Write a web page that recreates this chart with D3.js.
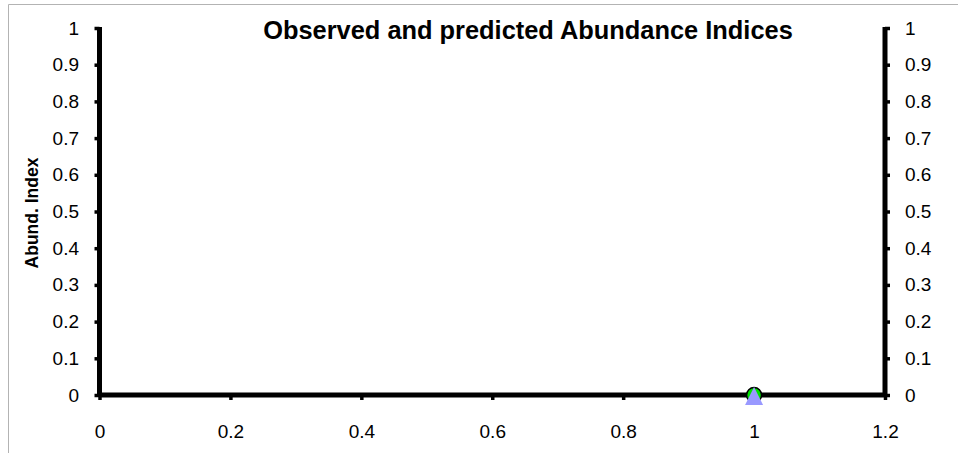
<!DOCTYPE html>
<html><head><meta charset="utf-8">
<script src="https://cdn.jsdelivr.net/npm/d3@7"></script>
<style>body{margin:0;background:#fff}svg{display:block}</style>
</head><body>
<script>
const xTicks = [0, 0.2, 0.4, 0.6, 0.8, 1, 1.2];
const yTicks = [0, 0.1, 0.2, 0.3, 0.4, 0.5, 0.6, 0.7, 0.8, 0.9, 1];
const observedX = [1];
const observedY = [0];
const predictedX = [1];
const predictedY = [0];

const W = 958, H = 453;
const FONT = "'Liberation Sans', Arial, sans-serif";
const svg = d3.select("body").append("svg").attr("width", W).attr("height", H)
  .style("font-family", FONT);

// outer frame
svg.append("path").attr("d", `M8.5,${H} V4.5 H${W}`).attr("fill","none").attr("stroke","#b3b3b3").attr("stroke-width",1);

const x = d3.scaleLinear().domain([0, 1.2]).range([99.5, 885]);
const y = d3.scaleLinear().domain([0, 1]).range([395, 28]);

const gl = svg.append("g").attr("transform", `translate(${x(0)},0)`)
  .call(d3.axisLeft(y).tickValues(yTicks).tickFormat(d3.format("~g")).tickSize(5).tickPadding(15.5));
const gr = svg.append("g").attr("transform", `translate(${x(1.2)},0)`)
  .call(d3.axisRight(y).tickValues(yTicks).tickFormat(d3.format("~g")).tickSize(5).tickPadding(15));
const gb = svg.append("g").attr("transform", `translate(0,${y(0)})`)
  .call(d3.axisBottom(x).tickValues(xTicks).tickFormat(d3.format("~g")).tickSize(5).tickPadding(24.5));

[gl, gr, gb].forEach(g => {
  g.select(".domain").remove();
  g.selectAll(".tick line").attr("stroke", "#000").attr("stroke-width", 3.5);
  g.selectAll(".tick text").attr("font-size", 19).attr("fill", "#000").style("font-family", FONT);
});

// axis lines
svg.append("line").attr("x1", x(0)).attr("x2", x(0)).attr("y1", y(1) - 1).attr("y2", y(0) + 2)
  .attr("stroke", "#000").attr("stroke-width", 5);
svg.append("line").attr("x1", x(1.2)).attr("x2", x(1.2)).attr("y1", y(1) - 1).attr("y2", y(0) + 2)
  .attr("stroke", "#000").attr("stroke-width", 5);
svg.append("line").attr("x1", x(0)).attr("x2", x(1.2)).attr("y1", y(0)).attr("y2", y(0))
  .attr("stroke", "#000").attr("stroke-width", 5);

// observed: green circle
svg.selectAll("circle.obs").data(observedX).join("circle").attr("class","obs")
  .attr("cx", (d) => x(d)).attr("cy", (d,i) => y(observedY[i])).attr("r", 7.5)
  .attr("fill", "#00e000").attr("stroke", "#000").attr("stroke-width", 1.5);
// predicted: purple triangle
const triType = { draw(ctx, size) { const h = Math.sqrt(size); ctx.moveTo(0, -h/2); ctx.lineTo(h/2, h/2); ctx.lineTo(-h/2, h/2); ctx.closePath(); } };
svg.selectAll("path.pred").data(predictedX).join("path").attr("class","pred")
  .attr("transform", (d,i) => `translate(${x(d)},${y(predictedY[i]) + 1})`)
  .attr("d", d3.symbol().type(triType).size(324)).attr("fill", "#9999ff");

// title
svg.append("text").attr("x", 528).attr("y", 39).attr("text-anchor", "middle")
  .attr("font-size", 25.4).attr("font-weight", "bold").text("Observed and predicted Abundance Indices");
// y label
svg.append("text").attr("transform", "translate(38,213) rotate(-90)").attr("text-anchor", "middle")
  .attr("font-size", 17.5).attr("font-weight", "bold").text("Abund. Index");
</script>
</body></html>
